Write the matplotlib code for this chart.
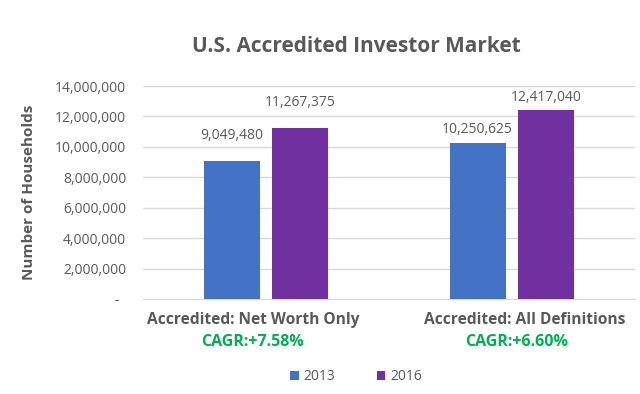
import numpy as np
import matplotlib
matplotlib.use('Agg')
import matplotlib.pyplot as plt
from matplotlib.ticker import FuncFormatter

categories = ['Accredited: Net Worth Only', 'Accredited: All Definitions']
cagr = ['CAGR:+7.58%', 'CAGR:+6.60%']
years = ['2013', '2016']
values_2013 = [9049480, 10250625]
values_2016 = [11267375, 12417040]
colors = ['#4472C4', '#7030A0']

plt.rcParams['font.family'] = ['Open Sans', 'DejaVu Sans']
grey = '#595959'

fig = plt.figure(figsize=(6.4, 3.94), dpi=100)
ax = fig.add_axes([143/640, 1 - 299/394, 492/640, 213/394])

x = np.arange(len(categories))
w = 0.228
off = 0.14
label_pad = [13, 4]  # value labels sit higher over the first group in the source
for vals, c, lab, d in [(values_2013, colors[0], years[0], -off), (values_2016, colors[1], years[1], off)]:
    bars = ax.bar(x + d, vals, w, color=c, label=lab, zorder=3)
    for b, v, pad in zip(bars, vals, label_pad):
        ax.annotate(f'{v:,}', (b.get_x() + b.get_width() / 2, v), xytext=(0, pad),
                    textcoords='offset points', ha='center', va='bottom',
                    fontsize=10, color=grey)

ax.set_xlim(-0.5, 1.5)
ax.set_ylim(0, 14000000)
ax.set_yticks(np.arange(0, 14000001, 2000000))
ax.yaxis.set_major_formatter(FuncFormatter(lambda v, p: '-  ' if v == 0 else f'{int(v):,}'))
ax.grid(axis='y', color='#D9D9D9', linewidth=1, zorder=0)
for s in ['top', 'right', 'left']:
    ax.spines[s].set_visible(False)
ax.spines['bottom'].set_color('#D9D9D9')
ax.tick_params(axis='both', length=0, labelsize=10, labelcolor=grey, pad=12)

# category labels sit slightly off the bar groups, as in the source
ax.set_xticks(x)
ax.set_xticklabels([])
cat_pos = [253, 525]
cagr_pos = [253, 517]
for cat, cg, px, pc in zip(categories, cagr, cat_pos, cagr_pos):
    fig.text(px/640, 1 - 320/394, cat, ha='center', va='center',
             fontsize=11.2, fontweight='bold', color=grey)
    fig.text(pc/640, 1 - 342/394, cg, ha='center', va='center',
             fontsize=11.5, fontweight='bold', color='#00B050')

ax.set_ylabel('Number of Households', fontsize=11, fontweight='bold', color=grey)
ax.yaxis.set_label_coords(-(143 - 36)/492, 0.5)
fig.text(356/640, 1 - 47/394, 'U.S. Accredited Investor Market', ha='center', va='center',
         fontsize=15, fontweight='bold', color=grey)

fig.legend(loc='center', bbox_to_anchor=(356/640, 1 - 377/394), ncol=2, frameon=False,
           fontsize=10, labelcolor=grey, handlelength=0.6, handleheight=0.6,
           columnspacing=3.0, handletextpad=0.35)

fig.savefig('out.png', dpi=100)
